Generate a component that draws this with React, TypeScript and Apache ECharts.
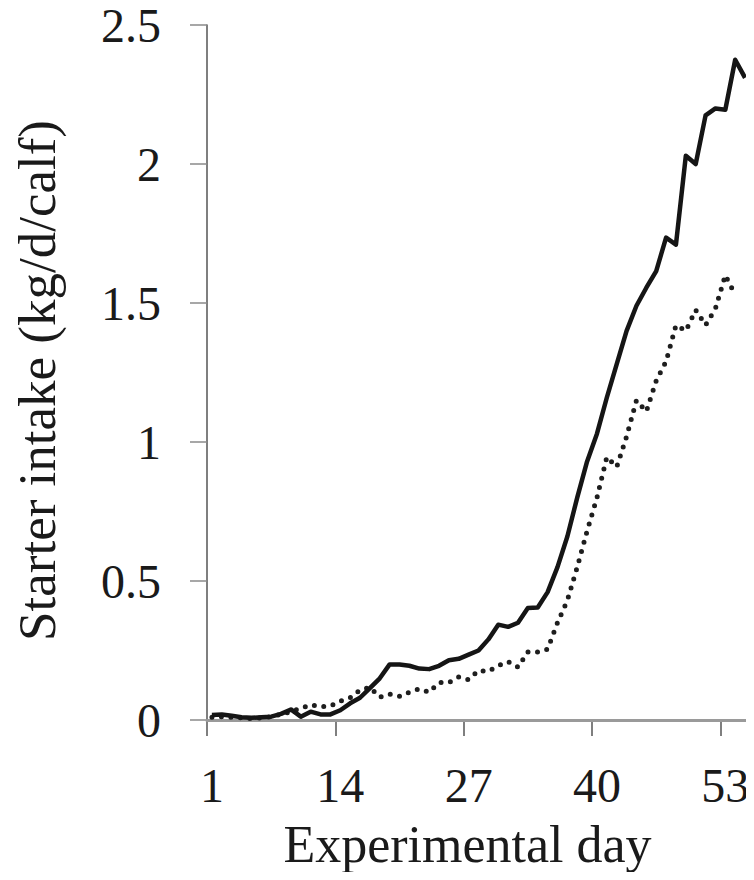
import React, { useEffect, useRef } from "react";
import * as echarts from "echarts";

const days: string[] = Array.from({ length: 55 }, (_, i) => String(i + 1));

const solidSeries: number[] = [
  0.018, 0.02, 0.015, 0.01, 0.008, 0.01, 0.012, 0.022, 0.038, 0.012,
  0.03, 0.02, 0.02, 0.035, 0.06, 0.08, 0.115, 0.15, 0.2, 0.2,
  0.195, 0.185, 0.183, 0.195, 0.215, 0.22, 0.235, 0.25, 0.29, 0.343,
  0.335, 0.35, 0.403, 0.405, 0.46, 0.55, 0.66, 0.8, 0.93, 1.03,
  1.16, 1.28, 1.4, 1.49, 1.555, 1.615, 1.735, 1.71, 2.03, 2.0,
  2.175, 2.2, 2.195, 2.375, 2.31,
];

const dottedSeries: number[] = [
  0.01, 0.012, 0.01, 0.008, 0.005, 0.008, 0.012, 0.02, 0.03, 0.042,
  0.055, 0.048, 0.05, 0.068, 0.08, 0.108, 0.118, 0.082, 0.093, 0.085,
  0.1, 0.112, 0.1, 0.135, 0.135, 0.155, 0.145, 0.178, 0.175, 0.195,
  0.21, 0.19, 0.245, 0.245, 0.255, 0.35, 0.43, 0.55, 0.68, 0.8,
  0.946, 0.91, 1.02, 1.15, 1.11, 1.22, 1.29, 1.42, 1.4, 1.475,
  1.42, 1.48, 1.6, 1.53,
];

// tick marks sit on the category boundaries before days 1, 14, 27, 40, 53
const xTickBoundaries: number[] = [0, 13, 26, 39, 52];

const yTicks = { min: 0, max: 2.5, interval: 0.5 };

const FONT = "'Liberation Serif', 'Times New Roman', Times, serif";

export default function App() {
  const ref = useRef<HTMLDivElement>(null);

  useEffect(() => {
    if (!ref.current) return;
    const chart = echarts.init(ref.current, undefined, { renderer: "svg" });
    chart.setOption({
      animation: false,
      backgroundColor: "#ffffff",
      grid: { left: 207, right: 4, top: 25, bottom: 160, containLabel: false },
      xAxis: [
        {
          type: "category",
          data: days,
          boundaryGap: true,
          name: "Experimental day",
          nameLocation: "middle",
          nameGap: 98,
          nameTextStyle: {
            fontFamily: FONT,
            fontSize: 52,
            color: "#1a1a1a",
            padding: [0, 22, 0, 0],
          },
          axisLine: { show: true, lineStyle: { color: "#9a9a9a", width: 3 } },
          axisTick: { show: false },
          axisLabel: {
            interval: 12,
            margin: 41,
            fontFamily: FONT,
            fontSize: 48,
            color: "#1a1a1a",
          },
          splitLine: { show: false },
          z: 1,
        },
        {
          type: "value",
          min: 0,
          max: days.length,
          position: "bottom",
          axisLine: { show: false },
          axisTick: {
            show: true,
            customValues: xTickBoundaries,
            length: 16,
            lineStyle: { color: "#555555", width: 1.5 },
          },
          axisLabel: { show: false },
          splitLine: { show: false },
        },
      ],
      yAxis: {
        type: "value",
        min: yTicks.min,
        max: yTicks.max,
        interval: yTicks.interval,
        name: "Starter intake (kg/d/calf)",
        nameLocation: "middle",
        nameGap: 144,
        nameTextStyle: {
          fontFamily: FONT,
          fontSize: 53,
          color: "#1a1a1a",
          padding: [0, 16, 0, 0],
        },
        axisLine: { show: true, lineStyle: { color: "#555555", width: 1.5 } },
        axisTick: {
          show: true,
          length: 17,
          lineStyle: { color: "#8a8a8a", width: 1.5 },
        },
        axisLabel: {
          margin: 46,
          fontFamily: FONT,
          fontSize: 48,
          lineHeight: 40,
          color: "#1a1a1a",
          formatter: (v: number) => String(v),
        },
        splitLine: { show: false },
      },
      series: [
        {
          name: "Solid",
          type: "line",
          xAxisIndex: 0,
          data: solidSeries,
          symbol: "none",
          lineStyle: { color: "#151515", width: 4.5, join: "round", cap: "butt" },
          z: 3,
        },
        {
          name: "Dotted",
          type: "line",
          xAxisIndex: 0,
          data: dottedSeries,
          symbol: "none",
          lineStyle: {
            color: "#1e1e1e",
            width: 5,
            type: [0, 9.5],
            cap: "round",
            join: "round",
          },
          z: 2,
        },
      ],
    });
    return () => chart.dispose();
  }, []);

  return <div ref={ref} style={{ width: 754, height: 880, margin: -8 }} />;
}
